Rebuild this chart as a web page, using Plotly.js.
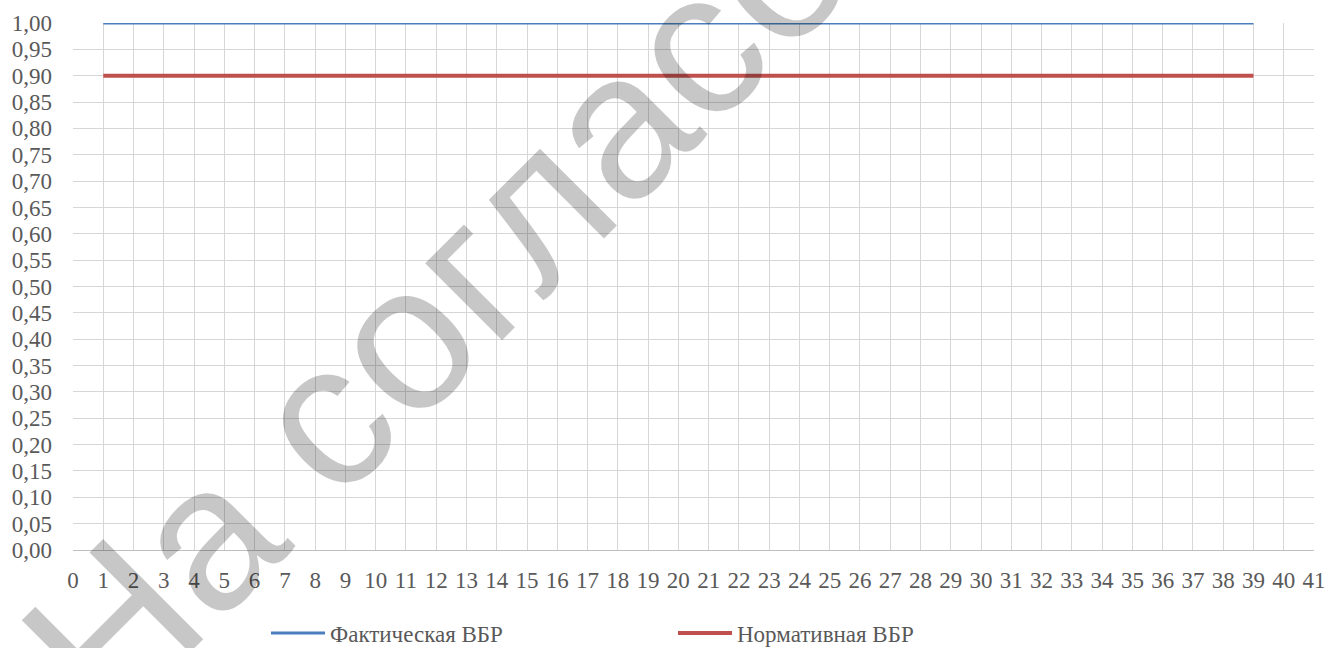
<!DOCTYPE html>
<html>
<head>
<meta charset="utf-8">
<script src="https://cdn.plot.ly/plotly-3.0.1.min.js"></script>
<style>
html,body{margin:0;padding:0;background:#fff;}
#chart{width:1327px;height:648px;}
</style>
</head>
<body>
<div id="chart"></div>
<script>
// ---- data ----
const xValues = [1,2,3,4,5,6,7,8,9,10,11,12,13,14,15,16,17,18,19,20,21,22,23,24,25,26,27,28,29,30,31,32,33,34,35,36,37,38,39];
const factVBR = [1,1,1,1,1,1,1,1,1,1,1,1,1,1,1,1,1,1,1,1,1,1,1,1,1,1,1,1,1,1,1,1,1,1,1,1,1,1,1];
const normVBR = [0.9,0.9,0.9,0.9,0.9,0.9,0.9,0.9,0.9,0.9,0.9,0.9,0.9,0.9,0.9,0.9,0.9,0.9,0.9,0.9,0.9,0.9,0.9,0.9,0.9,0.9,0.9,0.9,0.9,0.9,0.9,0.9,0.9,0.9,0.9,0.9,0.9,0.9,0.9];
const seriesNames = ['Фактическая ВБР', 'Нормативная ВБР'];
const watermarkText = 'На согласовании';

// ---- layout helpers (page pixels -> paper) ----
const W = 1327, H = 648;
const M = {l: 73, r: 13, t: 23, b: 98, autoexpand: false};
const PW = W - M.l - M.r, PH = H - M.t - M.b;
const px2x = p => (p - M.l) / PW;
const py2y = p => (H - M.b - p) / PH;

const font = {family: 'Liberation Serif, Times New Roman, serif', size: 23, color: '#595959'};

const traces = [
  {x: xValues, y: factVBR, name: seriesNames[0], type: 'scatter', mode: 'lines',
   line: {color: '#4A7EBF', width: 3}},
  {x: xValues, y: normVBR, name: seriesNames[1], type: 'scatter', mode: 'lines',
   line: {color: '#C0504D', width: 4}}
];

const layout = {
  width: W, height: H,
  margin: M,
  paper_bgcolor: '#fff', plot_bgcolor: '#fff',
  font: font,
  separators: ', ',
  showlegend: true,
  xaxis: {
    range: [0, 41], dtick: 1, tick0: 0, showgrid: true, gridcolor: '#d6d6d6', gridwidth: 1,
    zeroline: false, showline: true, linecolor: '#bfbfbf', linewidth: 1,
    ticks: '', ticklabelstandoff: 9, tickfont: font, fixedrange: true
  },
  yaxis: {
    range: [0, 1], dtick: 0.05, tick0: 0, tickformat: '.2f', showgrid: true, gridcolor: '#d6d6d6', gridwidth: 1,
    zeroline: false, showline: false, ticks: '', ticklabelstandoff: 20, tickfont: font, fixedrange: true
  },
  legend: {
    orientation: 'h', x: px2x(266), xanchor: 'left', y: py2y(633), yanchor: 'middle',
    font: font, itemwidth: 54, entrywidth: 338, entrywidthmode: 'pixels',
    bgcolor: 'rgba(0,0,0,0)', borderwidth: 0
  },
  annotations: [{
    text: watermarkText, xref: 'paper', yref: 'paper',
    x: px2x(636), y: py2y(106), xanchor: 'center', yanchor: 'middle',
    textangle: -45, showarrow: false,
    font: {family: 'Liberation Sans, Arial, sans-serif', size: 206, color: 'rgba(0,0,0,0.22)'}
  }]
};

Plotly.newPlot('chart', traces, layout, {staticPlot: true, displayModeBar: false});
</script>
</body>
</html>
